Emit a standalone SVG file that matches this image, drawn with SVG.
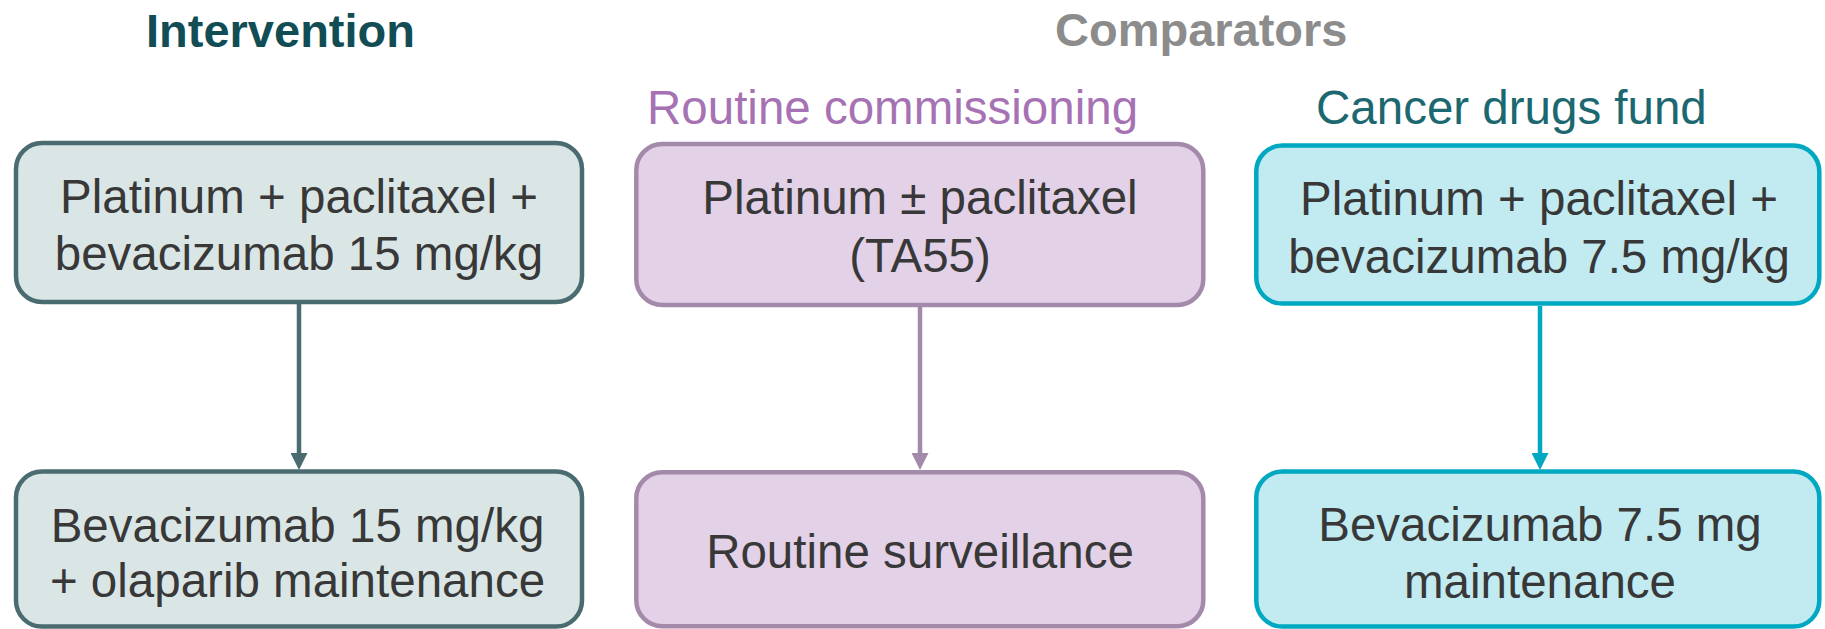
<svg xmlns="http://www.w3.org/2000/svg" width="1825" height="629" viewBox="0 0 1825 629">
  <style>
    .box { stroke-width: 4.5; }
    .int { fill: #dae6e6; stroke: #4a6b70; }
    .rc  { fill: #e2d1e7; stroke: #a48aaa; }
    .cdf { fill: #c1ebf1; stroke: #00a9c1; }
    .lbl { font-family: "Liberation Sans", Arial, sans-serif; font-size: 47.5px; fill: #383838; text-anchor: middle; }
    .head { font-family: "Liberation Sans", Arial, sans-serif; font-weight: bold; font-size: 47px; }
    .sub { font-family: "Liberation Sans", Arial, sans-serif; font-size: 47.5px; }
    .link { stroke-width: 4.5; fill: none; }
  </style>
  <defs>
    <marker id="headInt" markerUnits="userSpaceOnUse" markerWidth="18" markerHeight="17" refX="0" refY="8.5" orient="auto" viewBox="0 0 17 17">
      <path d="M0,0 L17,8.5 L0,17 Z" fill="#4a6b70"/>
    </marker>
    <marker id="headRc" markerUnits="userSpaceOnUse" markerWidth="18" markerHeight="17" refX="0" refY="8.5" orient="auto" viewBox="0 0 17 17">
      <path d="M0,0 L17,8.5 L0,17 Z" fill="#a48aaa"/>
    </marker>
    <marker id="headCdf" markerUnits="userSpaceOnUse" markerWidth="18" markerHeight="17" refX="0" refY="8.5" orient="auto" viewBox="0 0 17 17">
      <path d="M0,0 L17,8.5 L0,17 Z" fill="#00a9c1"/>
    </marker>
  </defs>

  <!-- column headings -->
  <g id="headings">
    <text class="head" x="146" y="46.5" fill="#124d55">Intervention</text>
    <text class="head" x="1055" y="46" fill="#8c8c8c">Comparators</text>
    <text class="sub" x="647" y="124" font-size="46px" fill="#a672b4">Routine commissioning</text>
    <text class="sub" x="1316" y="124" fill="#1b6870">Cancer drugs fund</text>
  </g>

  <!-- connectors -->
  <g id="connectors">
    <line class="link" x1="299" y1="304" x2="299" y2="453" stroke="#4a6b70" marker-end="url(#headInt)"/>
    <line class="link" x1="920" y1="307" x2="920" y2="453" stroke="#a48aaa" marker-end="url(#headRc)"/>
    <line class="link" x1="1540" y1="306" x2="1540" y2="453" stroke="#00a9c1" marker-end="url(#headCdf)"/>
  </g>

  <g id="int-induction">
    <rect class="box int" x="16" y="143" width="566" height="159" rx="26"/>
    <text class="lbl" x="299" y="212.5">Platinum + paclitaxel +</text>
    <text class="lbl" x="299" y="269.5">bevacizumab 15 mg/kg</text>
  </g>

  <g id="rc-induction">
    <rect class="box rc" x="636.3" y="144" width="567" height="161" rx="26"/>
    <text class="lbl" x="920" y="214">Platinum ± paclitaxel</text>
    <text class="lbl" x="920" y="271.5">(TA55)</text>
  </g>

  <g id="cdf-induction">
    <rect class="box cdf" x="1256.3" y="145.6" width="563" height="158" rx="26"/>
    <text class="lbl" x="1539" y="215">Platinum + paclitaxel +</text>
    <text class="lbl" x="1539" y="272.5">bevacizumab 7.5 mg/kg</text>
  </g>

  <g id="int-maintenance">
    <rect class="box int" x="16" y="471.6" width="566" height="155" rx="26"/>
    <text class="lbl" x="297.5" y="541.5">Bevacizumab 15 mg/kg</text>
    <text class="lbl" x="297.5" y="597">+ olaparib maintenance</text>
  </g>

  <g id="rc-maintenance">
    <rect class="box rc" x="636.3" y="472.3" width="567" height="154" rx="26"/>
    <text class="lbl" x="920" y="568.3">Routine surveillance</text>
  </g>

  <g id="cdf-maintenance">
    <rect class="box cdf" x="1256.3" y="471.6" width="563" height="155" rx="26"/>
    <text class="lbl" x="1540" y="540.5">Bevacizumab 7.5 mg</text>
    <text class="lbl" x="1540" y="598">maintenance</text>
  </g>
</svg>
